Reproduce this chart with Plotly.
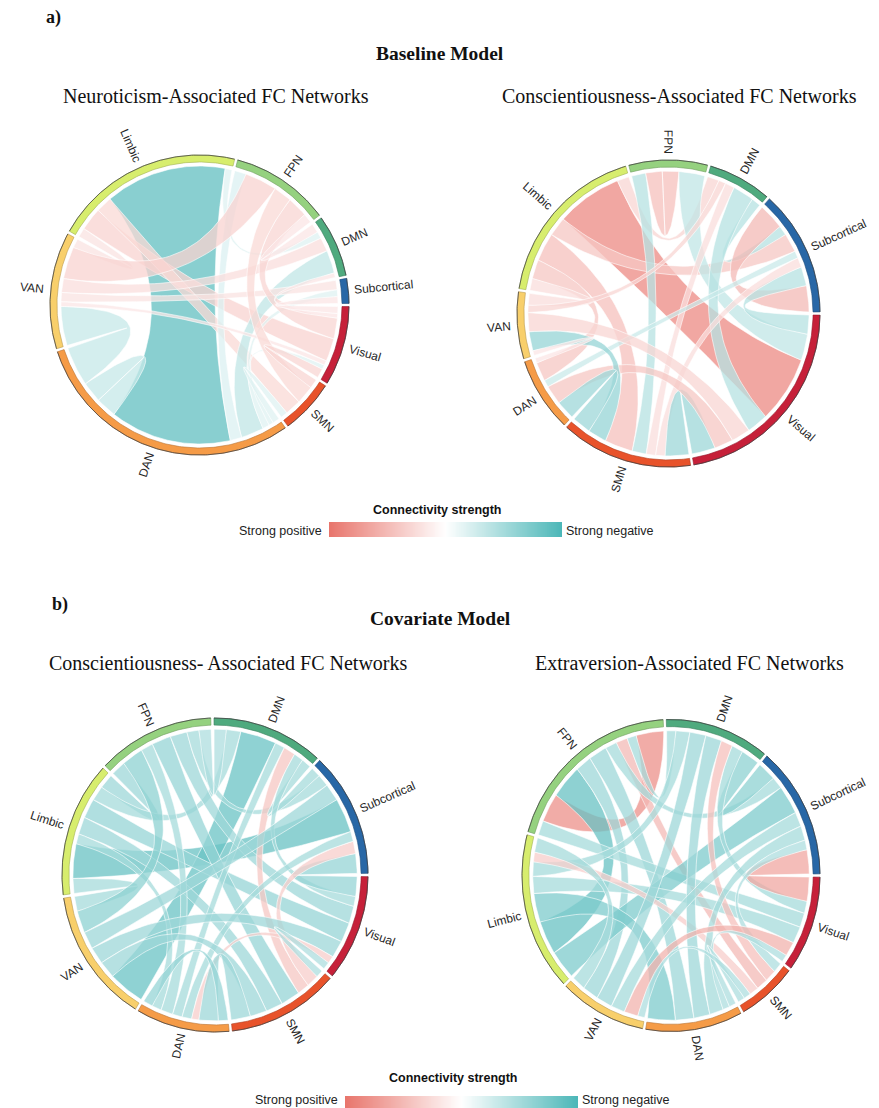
import numpy as np
import plotly.graph_objects as go

W, H = 879, 1108

# ---------------- data ----------------
networks = ["Visual", "SMN", "DAN", "VAN", "Limbic", "FPN", "DMN", "Subcortical"]
network_colors = ["#c62039", "#e8532b", "#f59b47", "#f8cf6b", "#d7ed6d", "#95d17f", "#4faa7e", "#2867a6"]

panel_titles = ["Neuroticism-Associated FC Networks",
                "Conscientiousness-Associated FC Networks",
                "Conscientiousness- Associated FC Networks",
                "Extraversion-Associated FC Networks"]
section_labels = ["a)", "b)"]
model_titles = ["Baseline Model", "Covariate Model"]
colorbar_title = "Connectivity strength"
colorbar_ends = ["Strong positive", "Strong negative"]

# links: (network A, network B, weight, strength [+ positive / - negative])
p1_links = [
    ("Limbic", "DAN", 53, -0.85),
    ("Limbic", "Visual", 10, 0.22),
    ("Limbic", "SMN", 7, 0.18),
    ("Limbic", "VAN", 4, 0.12),
    ("Limbic", "DMN", 3, -0.10),
    ("DMN", "DAN", 10, -0.25),
    ("FPN", "DAN", 5, -0.12),
    ("Subcortical", "DAN", 3, -0.10),
    ("Visual", "DAN", 2, -0.10),
    ("DAN", "DAN", 9, -0.22),
    ("VAN", "DAN", 17, -0.22),
    ("FPN", "VAN", 14, 0.22),
    ("DMN", "VAN", 6, 0.15),
    ("Subcortical", "VAN", 4, 0.12),
    ("Visual", "VAN", 2, 0.10),
    ("FPN", "Visual", 9, 0.20),
    ("FPN", "SMN", 8, 0.18),
    ("FPN", "DMN", 4, 0.10),
    ("DMN", "Visual", 2, 0.10),
    ("Subcortical", "Visual", 3, 0.10),
    ("Visual", "SMN", 4, 0.20),
    ("SMN", "DAN", 3, -0.10),
]
p1_order = {
    "Limbic": ["VAN", "Visual", "SMN", "DAN", "DMN"],
    "DAN": ["SMN", "Visual", "Subcortical", "DMN", "FPN", "Limbic", "DAN", "DAN", "VAN"],
    "FPN": ["DAN", "VAN", "SMN", "Visual", "DMN"],
}

p2_links = [
    ("Limbic", "Visual", 28, 0.80),
    ("Limbic", "SMN", 12, 0.35),
    ("Limbic", "Subcortical", 8, 0.30),
    ("Limbic", "DAN", 8, 0.30),
    ("Limbic", "VAN", 5, 0.15),
    ("Limbic", "DMN", 5, 0.20),
    ("FPN", "SMN", 6, -0.30),
    ("FPN", "FPN", 7, 0.35),
    ("FPN", "Visual", 11, -0.25),
    ("DMN", "Subcortical", 4, -0.30),
    ("DMN", "VAN", 3, 0.20),
    ("DMN", "SMN", 4, 0.15),
    ("Visual", "DMN", 9, -0.30),
    ("Subcortical", "Subcortical", 11, 0.40),
    ("Subcortical", "Visual", 8, -0.30),
    ("Subcortical", "DAN", 3, -0.20),
    ("Subcortical", "SMN", 4, 0.15),
    ("Visual", "SMN", 10, -0.45),
    ("Visual", "DAN", 8, 0.30),
    ("Visual", "VAN", 8, 0.20),
    ("VAN", "SMN", 8, -0.50),
    ("DAN", "SMN", 8, -0.45),
    ("DAN", "VAN", 2, 0.10),
]
p2_order = {
    "Limbic": ["VAN", "DAN", "SMN", "Subcortical", "Visual", "DMN"],
    "Visual": ["Subcortical", "FPN", "Limbic", "DMN", "VAN", "DAN", "SMN"],
    "FPN": ["SMN", "FPN", "FPN", "Visual"],
}

p3_links = [
    ("Limbic", "Subcortical", 14, -0.80),
    ("VAN", "DMN", 15, -0.78),
    ("Limbic", "FPN", 6, -0.45),
    ("Limbic", "Visual", 8, -0.50),
    ("Limbic", "SMN", 7, -0.45),
    ("Limbic", "DMN", 6, -0.40),
    ("Limbic", "VAN", 6, -0.40),
    ("Limbic", "DAN", 4, -0.40),
    ("FPN", "VAN", 9, -0.55),
    ("FPN", "SMN", 8, -0.50),
    ("FPN", "Visual", 7, -0.45),
    ("FPN", "DAN", 5, -0.40),
    ("FPN", "Subcortical", 5, -0.40),
    ("FPN", "DMN", 5, -0.35),
    ("DMN", "SMN", 5, 0.30),
    ("DMN", "Subcortical", 4, -0.40),
    ("DMN", "Visual", 4, -0.40),
    ("DMN", "DAN", 4, -0.40),
    ("Subcortical", "Visual", 8, -0.50),
    ("Subcortical", "SMN", 5, 0.25),
    ("Subcortical", "VAN", 7, -0.45),
    ("Subcortical", "DAN", 4, -0.40),
    ("Visual", "VAN", 7, -0.45),
    ("Visual", "DAN", 3, 0.25),
    ("Visual", "SMN", 3, -0.35),
    ("SMN", "VAN", 7, -0.45),
    ("SMN", "DAN", 8, -0.45),
    ("DAN", "DAN", 4, -0.50),
]
p3_order = {
    "Limbic": ["VAN", "Subcortical", "DAN", "SMN", "Visual", "DMN", "FPN"],
    "Subcortical": ["DMN", "FPN", "VAN", "Limbic", "DAN", "SMN", "Visual"],
    "VAN": ["DMN", "SMN", "Visual", "Subcortical", "FPN", "Limbic"],
}

p4_links = [
    ("FPN", "FPN", 12, 0.75),
    ("FPN", "Limbic", 14, -0.80),
    ("FPN", "SMN", 5, 0.40),
    ("FPN", "DAN", 8, -0.45),
    ("FPN", "VAN", 7, -0.45),
    ("FPN", "Visual", 6, -0.40),
    ("FPN", "Subcortical", 5, -0.40),
    ("FPN", "DMN", 4, -0.40),
    ("Limbic", "Subcortical", 12, -0.65),
    ("Limbic", "DAN", 12, -0.65),
    ("Limbic", "Visual", 7, -0.40),
    ("Limbic", "DMN", 6, -0.40),
    ("Limbic", "SMN", 4, 0.25),
    ("Limbic", "VAN", 6, -0.40),
    ("DMN", "Subcortical", 8, -0.55),
    ("DMN", "VAN", 7, -0.45),
    ("DMN", "DAN", 7, -0.45),
    ("DMN", "Visual", 5, -0.40),
    ("DMN", "SMN", 5, 0.35),
    ("Subcortical", "Visual", 10, 0.55),
    ("Subcortical", "VAN", 6, -0.40),
    ("Subcortical", "DAN", 6, -0.40),
    ("Subcortical", "SMN", 4, -0.35),
    ("Visual", "VAN", 6, 0.45),
    ("Visual", "DAN", 3, -0.35),
    ("SMN", "DAN", 3, -0.35),
    ("SMN", "VAN", 3, -0.35),
]
p4_order = {
    "FPN": ["Visual", "FPN", "Limbic", "VAN", "DAN", "Subcortical", "SMN", "DMN", "FPN"],
    "Limbic": ["Subcortical", "FPN", "DAN", "Visual", "DMN", "SMN", "VAN"],
}

# ---------------- layout of panels (pixels) ----------------
panels = [
    dict(links=p1_links, order=p1_order, cx=199.5, cy=305, rx=149.5, ry=150, tx=216, ty=96),
    dict(links=p2_links, order=p2_order, cx=668.5, cy=313.5, rx=151.5, ry=153.5, tx=679, ty=96),
    dict(links=p3_links, order=p3_order, cx=215, cy=875, rx=153, ry=157, tx=228, ty=663),
    dict(links=p4_links, order=p4_order, cx=671, cy=875.5, rx=149, ry=156, tx=689, ty=663),
]

GAP = 1.2
RING_W = 7.0
LINK_INSET = 11.0
H_CTRL = 0.05
ALPHA = 0.75
RED = (232, 117, 108)
TEAL = (76, 183, 184)


def strength_color(s, alpha):
    base = RED if s > 0 else TEAL
    t = min(1.0, abs(s)) ** 0.75
    r, g, b = [255 + (c - 255) * t for c in base]
    return f"rgba({r:.0f},{g:.0f},{b:.0f},{alpha})"


def darker(hexc, f=0.6):
    h = hexc.lstrip("#")
    r, g, b = int(h[0:2], 16), int(h[2:4], 16), int(h[4:6], 16)
    return f"rgb({r*f:.0f},{g*f:.0f},{b*f:.0f})"


def compute_layout(links, order):
    idx = {n: i for i, n in enumerate(networks)}
    totals = {n: 0.0 for n in networks}
    ends = {n: [] for n in networks}
    for k, (a, b, v, s) in enumerate(links):
        totals[a] += v
        totals[b] += v
        ends[a].append((b, k, 0))
        ends[b].append((a, k, 1))
    scale = (360 - 8 * GAP) / sum(totals.values())
    pos, sectors = {}, {}
    cur = -GAP / 2
    for n in networks:
        span = totals[n] * scale
        sectors[n] = (cur, cur - span)
        lst = list(ends[n])
        seq = []
        if n in order:
            for p in order[n]:
                for e in lst:
                    if e[0] == p:
                        seq.append(e)
                        lst.remove(e)
                        break
        selfs = [e for e in lst if e[0] == n]
        others = [e for e in lst if e[0] != n]
        others.sort(key=lambda e: -((idx[e[0]] - idx[n]) % 8))
        if n not in order and selfs:
            seq = selfs[:1] + others + selfs[1:]
        else:
            seq = seq + others + selfs
        c = cur
        for (p, k, ei) in seq:
            v = links[k][2] * scale
            pos[(k, ei)] = (c, c - v)
            c -= v
        cur = cur - span - GAP
    return sectors, pos


def arc_unit(d0, d1, f):
    n = max(3, int(abs(d1 - d0) / 0.8) + 2)
    t = np.radians(np.linspace(d0, d1, n))
    return np.cos(t) * f, np.sin(t) * f


def bez_unit(d0, d1, f):
    p0 = np.array([np.cos(np.radians(d0)), np.sin(np.radians(d0))]) * f
    p2 = np.array([np.cos(np.radians(d1)), np.sin(np.radians(d1))]) * f
    c = H_CTRL * (p0 + p2)
    t = np.linspace(0, 1, 45)[:, None]
    pts = (1 - t) ** 2 * p0 + 2 * t * (1 - t) * c + t ** 2 * p2
    return pts[:, 0], pts[:, 1]


AW = {"A": .667, "B": .667, "C": .722, "D": .722, "F": .611, "L": .556, "M": .833, "N": .722,
      "P": .667, "S": .667, "V": .667, "a": .556, "b": .556, "c": .5, "i": .222, "l": .222,
      "m": .833, "o": .556, "r": .333, "s": .5, "t": .278, "u": .556}


def text_w(s, size):
    return sum(AW.get(ch, 0.55) for ch in s) * size


fig = go.Figure()
annotations = []
LABEL_SIZE = 12

for P in panels:
    cx, cy, rx, ry = P["cx"], P["cy"], P["rx"], P["ry"]
    R = (rx + ry) / 2
    f_link = (R - LINK_INSET) / R
    f_in = (R - RING_W) / R
    sectors, pos = compute_layout(P["links"], P["order"])

    # ribbons
    for k, (a, b, v, s) in enumerate(P["links"]):
        a0, a1 = pos[(k, 0)]
        b0, b1 = pos[(k, 1)]
        parts = [arc_unit(a0, a1, f_link), bez_unit(a1, b0, f_link),
                 arc_unit(b0, b1, f_link), bez_unit(b1, a0, f_link)]
        ux = np.concatenate([p[0] for p in parts])
        uy = np.concatenate([p[1] for p in parts])
        fig.add_trace(go.Scatter(
            x=cx + rx * ux, y=cy - ry * uy, mode="lines", fill="toself",
            fillcolor=strength_color(s, ALPHA),
            line=dict(color="rgba(255,255,255,0.85)", width=0.7),
            hoverinfo="skip", showlegend=False))

    # ring sectors + labels
    for n, col in zip(networks, network_colors):
        d0, d1 = sectors[n]
        ox, oy = arc_unit(d0, d1, 1.0)
        ix, iy = arc_unit(d1, d0, f_in)
        ux = np.concatenate([ox, ix, ox[:1]])
        uy = np.concatenate([oy, iy, oy[:1]])
        fig.add_trace(go.Scatter(
            x=cx + rx * ux, y=cy - ry * uy, mode="lines", fill="toself",
            fillcolor=col, line=dict(color=darker(col, 0.75), width=0.6),
            hoverinfo="skip", showlegend=False))
        fig.add_trace(go.Scatter(
            x=cx + rx * ox, y=cy - ry * oy, mode="lines",
            line=dict(color="rgba(60,60,60,0.8)", width=0.9),
            hoverinfo="skip", showlegend=False))
        mid = (d0 + d1) / 2
        mid = (mid + 180) % 360 - 180
        w = text_w(n, LABEL_SIZE)
        off = 6 + w / 2
        t = np.radians(mid)
        lx = cx + (rx + off) * np.cos(t)
        ly = cy - (ry + off) * np.sin(t)
        if -90 < mid <= 90:
            ang = -mid
        else:
            ang = 180 - mid
        ang = (ang + 180) % 360 - 180
        annotations.append(dict(x=lx, y=ly, xref="x", yref="y", text=n, showarrow=False,
                                textangle=ang, xanchor="center", yanchor="middle",
                                font=dict(family="Liberation Sans, Arial", size=LABEL_SIZE, color="#262626")))

# panel titles
for P, ttl in zip(panels, panel_titles):
    annotations.append(dict(x=P["tx"], y=P["ty"], xref="x", yref="y", text=ttl, showarrow=False,
                            xanchor="center", yanchor="middle",
                            font=dict(family="Liberation Serif, Times New Roman", size=20, color="#111")))

# section labels and model titles
for lab, (x, y) in zip(section_labels, [(53, 17), (60, 604)]):
    annotations.append(dict(x=x, y=y, xref="x", yref="y", text=f"<b>{lab}</b>", showarrow=False,
                            xanchor="center", yanchor="middle",
                            font=dict(family="Liberation Serif, Times New Roman", size=18, color="#111")))
for ttl, (x, y) in zip(model_titles, [(440, 53), (440, 618)]):
    annotations.append(dict(x=x, y=y, xref="x", yref="y", text=f"<b>{ttl}</b>", showarrow=False,
                            xanchor="center", yanchor="middle",
                            font=dict(family="Liberation Serif, Times New Roman", size=19.5, color="#111")))

# colorbars
cbars = [dict(x0=329, x1=562, y0=522, y1=537, ty=510, tx=437, ly=531),
         dict(x0=345, x1=578, y0=1096, y1=1108, ty=1078, tx=453, ly=1100)]
cb_z = np.linspace(0, 1, 256)
cscale = [[0, f"rgb{RED}"], [0.5, "rgb(255,255,255)"], [1, f"rgb{TEAL}"]]
layout_axes = {}
for i, cb in enumerate(cbars):
    ax = i + 2
    fig.add_trace(go.Heatmap(z=[cb_z], colorscale=cscale, showscale=False, hoverinfo="skip",
                             xaxis=f"x{ax}", yaxis=f"y{ax}"))
    layout_axes[f"xaxis{ax}"] = dict(domain=[cb["x0"] / W, cb["x1"] / W], visible=False,
                                     anchor=f"y{ax}", fixedrange=True)
    layout_axes[f"yaxis{ax}"] = dict(domain=[1 - cb["y1"] / H, 1 - cb["y0"] / H], visible=False,
                                     anchor=f"x{ax}", fixedrange=True)
    annotations.append(dict(x=cb["tx"], y=cb["ty"], xref="x", yref="y", text=f"<b>{colorbar_title}</b>",
                            showarrow=False, xanchor="center", yanchor="middle",
                            font=dict(family="Liberation Sans, Arial", size=12.5, color="#111")))
    annotations.append(dict(x=cb["x0"] - 5, y=cb["ly"], xref="x", yref="y", text=colorbar_ends[0],
                            showarrow=False, xanchor="right", yanchor="middle",
                            font=dict(family="Liberation Sans, Arial", size=12.5, color="#222")))
    annotations.append(dict(x=cb["x1"] + 2, y=cb["ly"], xref="x", yref="y", text=colorbar_ends[1],
                            showarrow=False, xanchor="left", yanchor="middle",
                            font=dict(family="Liberation Sans, Arial", size=12.5, color="#222")))

fig.update_layout(
    width=W, height=H, margin=dict(l=0, r=0, t=0, b=0),
    paper_bgcolor="white", plot_bgcolor="white", showlegend=False,
    xaxis=dict(range=[0, W], visible=False, domain=[0, 1], fixedrange=True),
    yaxis=dict(range=[H, 0], visible=False, domain=[0, 1], fixedrange=True),
    annotations=annotations,
    **layout_axes,
)

fig.write_html("out.html", config={"displayModeBar": False},
               post_script="document.body.style.margin='0px';document.body.style.overflow='hidden';")
